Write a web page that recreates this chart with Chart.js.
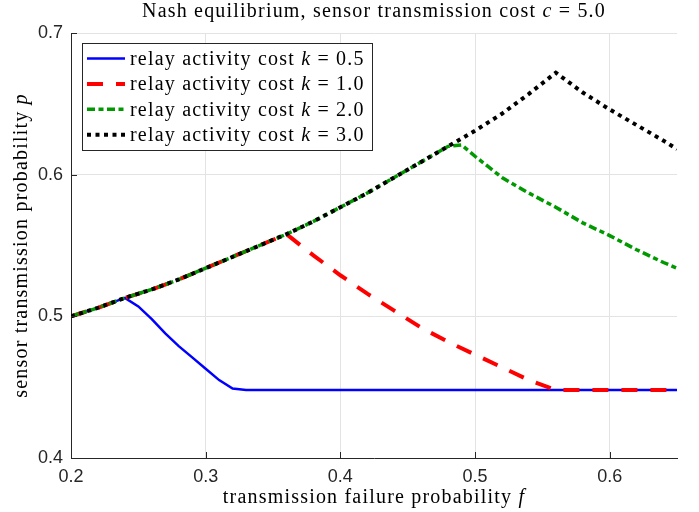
<!DOCTYPE html>
<html>
<head>
<meta charset="utf-8">
<title>Nash equilibrium</title>
<script src="https://cdn.jsdelivr.net/npm/chart.js@4.4.1/dist/chart.umd.min.js"></script>
<style>
    body { margin: 0; background: #fff; }
    canvas { display: block; }
</style>
</head>
<body>
<canvas id="chart" width="699" height="512"></canvas>
<script>
// Data
const fK05 = [0.20, 0.22, 0.24, 0.25, 0.26, 0.27, 0.28, 0.29, 0.30, 0.31, 0.32, 0.33, 0.40, 0.50, 0.60, 0.65];
const pK05 = [0.500, 0.506, 0.513, 0.507, 0.498, 0.488, 0.479, 0.471, 0.463, 0.455, 0.449, 0.448, 0.448, 0.448, 0.448, 0.448];

const fK1 = [0.20, 0.22, 0.24, 0.26, 0.28, 0.30, 0.32, 0.34, 0.36, 0.38, 0.40, 0.42, 0.44, 0.46, 0.48, 0.50, 0.52, 0.54, 0.56, 0.60, 0.65];
const pK1 = [0.500, 0.506, 0.513, 0.519, 0.526, 0.534, 0.542, 0.550, 0.558, 0.543, 0.529, 0.516, 0.504, 0.492, 0.482, 0.473, 0.464, 0.455, 0.448, 0.448, 0.448];

const fK2 = [0.20, 0.22, 0.24, 0.26, 0.28, 0.30, 0.32, 0.34, 0.36, 0.38, 0.40, 0.42, 0.44, 0.46, 0.48, 0.49, 0.50, 0.52, 0.54, 0.56, 0.58, 0.60, 0.62, 0.64, 0.65];
const pK2 = [0.500, 0.506, 0.513, 0.519, 0.526, 0.534, 0.542, 0.550, 0.558, 0.567, 0.577, 0.587, 0.598, 0.609, 0.620, 0.621, 0.613, 0.598, 0.587, 0.577, 0.566, 0.557, 0.547, 0.538, 0.534];

const fK3 = [0.20, 0.22, 0.24, 0.26, 0.28, 0.30, 0.32, 0.34, 0.36, 0.38, 0.40, 0.42, 0.44, 0.46, 0.48, 0.50, 0.52, 0.54, 0.56, 0.58, 0.60, 0.62, 0.64, 0.65];
const pK3 = [0.500, 0.506, 0.513, 0.519, 0.526, 0.534, 0.542, 0.550, 0.558, 0.567, 0.577, 0.587, 0.598, 0.609, 0.620, 0.631, 0.643, 0.657, 0.672, 0.658, 0.646, 0.635, 0.624, 0.618];

const kLabels = ['0.5', '1.0', '2.0', '3.0'];
const xTicks = [0.2, 0.3, 0.4, 0.5, 0.6];
const xTickLabels = ['0.2', '0.3', '0.4', '0.5', '0.6'];
const yTicks = [0.4, 0.5, 0.6, 0.7];
const yTickLabels = ['0.4', '0.5', '0.6', '0.7'];

const serif = "'Liberation Serif', 'Times New Roman', serif";
const axisColor = '#262626';

function toPoints(fs, ps) {
    return fs.map((f, i) => ({ x: f, y: ps[i] }));
}

// draw text made of roman/italic pieces
function drawRich(ctx, parts, x, y, align) {
    ctx.letterSpacing = '1.2px';
    let total = 0;
    parts.forEach(p => {
        ctx.font = (p.it ? 'italic ' : '') + '20px ' + serif;
        p.w = ctx.measureText(p.t).width;
        total += p.w;
    });
    let cx = align === 'center' ? x - total / 2 : x;
    ctx.textAlign = 'left';
    parts.forEach(p => {
        ctx.font = (p.it ? 'italic ' : '') + '20px ' + serif;
        ctx.fillText(p.t, cx, y);
        cx += p.w;
    });
    ctx.letterSpacing = '0px';
}

const textPlugin = {
    id: 'texts',
    beforeDraw(chart) {
        const ctx = chart.ctx;
        ctx.save();
        ctx.fillStyle = '#fff';
        ctx.fillRect(0, 0, chart.width, chart.height);
        ctx.restore();
    },
    afterDraw(chart) {
        const ctx = chart.ctx;
        const area = chart.chartArea;
        const xs = chart.scales.x;
        const ys = chart.scales.y;
        ctx.save();

        // inward tick marks
        ctx.strokeStyle = axisColor;
        ctx.lineWidth = 1;
        ctx.beginPath();
        xTicks.forEach(v => {
            const px = Math.round(xs.getPixelForValue(v)) + 0.5;
            ctx.moveTo(px, area.bottom);
            ctx.lineTo(px, area.bottom - 6);
        });
        yTicks.forEach(v => {
            const py = Math.round(ys.getPixelForValue(v)) + 0.5;
            ctx.moveTo(area.left, py);
            ctx.lineTo(area.left + 6, py);
        });
        ctx.stroke();

        // title and axis labels
        ctx.fillStyle = '#000';
        ctx.textBaseline = 'alphabetic';
        const midX = (area.left + area.right) / 2;
        drawRich(ctx, [
            { t: 'Nash equilibrium, sensor transmission cost ' },
            { t: 'c', it: true },
            { t: ' = 5.0' }
        ], midX, 17, 'center');
        drawRich(ctx, [
            { t: 'transmission failure probability ' },
            { t: 'f', it: true }
        ], midX, 503, 'center');
        ctx.save();
        ctx.translate(27, (area.top + area.bottom) / 2);
        ctx.rotate(-Math.PI / 2);
        drawRich(ctx, [
            { t: 'sensor transmission probability ' },
            { t: 'p', it: true }
        ], 0, 0, 'center');
        ctx.restore();

        // legend box inside the axes
        const bx = 82, by = 43, bw = 290, bh = 107;
        ctx.fillStyle = '#fff';
        ctx.fillRect(bx, by, bw, bh);
        ctx.strokeStyle = axisColor;
        ctx.strokeRect(bx + 0.5, by + 0.5, bw, bh);
        chart.data.datasets.forEach((ds, i) => {
            const ry = 58.5 + i * 25.4;
            ctx.strokeStyle = ds.borderColor;
            ctx.lineWidth = ds.borderWidth;
            ctx.setLineDash(ds.borderDash || []);
            ctx.beginPath();
            ctx.moveTo(87, ry);
            ctx.lineTo(125, ry);
            ctx.stroke();
            ctx.setLineDash([]);
            ctx.fillStyle = '#000';
            ctx.textBaseline = 'middle';
            drawRich(ctx, [
                { t: 'relay activity cost ' },
                { t: 'k', it: true },
                { t: ' = ' + kLabels[i] }
            ], 130, ry + 1, 'left');
        });
        ctx.restore();
    }
};

const datasets = [
    { label: 'relay activity cost k = ' + kLabels[0], data: toPoints(fK05, pK05), borderColor: '#0000ff', borderWidth: 2.5, order: 3 },
    { label: 'relay activity cost k = ' + kLabels[1], data: toPoints(fK1, pK1), borderColor: '#ff0000', borderWidth: 4, borderDash: [16, 13], order: 2 },
    { label: 'relay activity cost k = ' + kLabels[2], data: toPoints(fK2, pK2), borderColor: '#009900', borderWidth: 3.5, borderDash: [8, 3.5, 5, 3.5], order: 1 },
    { label: 'relay activity cost k = ' + kLabels[3], data: toPoints(fK3, pK3), borderColor: '#000000', borderWidth: 4, borderDash: [4, 4.5], order: 0 }
];
datasets.forEach(ds => {
    ds.pointRadius = 0;
    ds.tension = 0;
    ds.fill = false;
    ds.borderCapStyle = 'butt';
});

new Chart(document.getElementById('chart'), {
    type: 'line',
    data: { datasets: datasets },
    options: {
        responsive: false,
        animation: false,
        layout: { padding: { top: 33, right: 22, bottom: 0, left: 0 } },
        plugins: {
            legend: { display: false },
            title: { display: false },
            tooltip: { enabled: false }
        },
        scales: {
            x: {
                type: 'linear',
                min: 0.2,
                max: 0.65,
                afterBuildTicks: scale => { scale.ticks = xTicks.map(v => ({ value: v })); },
                afterFit: scale => { scale.height = 54; },
                ticks: {
                    callback: (v, i) => xTickLabels[i],
                    color: axisColor,
                    padding: 8,
                    maxRotation: 0,
                    font: { family: "'Liberation Sans', Arial, sans-serif", size: 18 }
                },
                grid: { color: '#e3e3e3', drawTicks: false },
                border: { display: true, color: axisColor, width: 1 }
            },
            y: {
                type: 'linear',
                min: 0.4,
                max: 0.7,
                afterBuildTicks: scale => { scale.ticks = yTicks.map(v => ({ value: v })); },
                afterFit: scale => { scale.width = 71; },
                ticks: {
                    callback: (v, i) => yTickLabels[i],
                    color: axisColor,
                    padding: 8,
                    font: { family: "'Liberation Sans', Arial, sans-serif", size: 18 }
                },
                grid: { color: '#e3e3e3', drawTicks: false },
                border: { display: true, color: axisColor, width: 1 }
            }
        }
    },
    plugins: [textPlugin]
});
</script>
</body>
</html>
